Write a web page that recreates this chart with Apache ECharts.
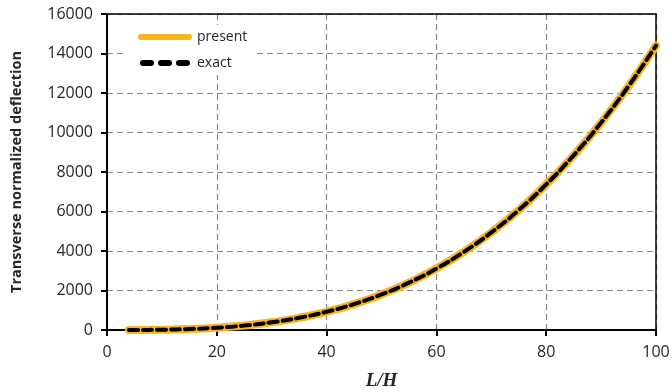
<!DOCTYPE html>
<html>
<head>
<meta charset="UTF-8">
<title></title>
<script src="https://cdn.jsdelivr.net/npm/echarts@6/dist/echarts.min.js"></script>
<style>
  html, body { margin: 0; padding: 0; background: #fff; }
</style>
</head>
<body>
<div id="main" style="width: 672px; height: 392px;"></div>
<script type="text/javascript">
// L/H values
var ratios = [4, 5, 10, 15, 20, 25, 30, 35, 40, 45, 50, 55, 60, 65, 70, 75, 80, 85, 90, 95, 100];
// deflection
var present = [1, 2, 14, 49, 115, 225, 389, 617, 922, 1312, 1800, 2396, 3110, 3955, 4940, 6075, 7373, 8845, 10500, 12350, 14400];
var exact = [1, 2, 14, 49, 115, 225, 389, 617, 922, 1312, 1800, 2396, 3110, 3955, 4940, 6075, 7373, 8845, 10500, 12350, 14400];
var xTicks = [0, 20, 40, 60, 80, 100];
var yTicks = [0, 2000, 4000, 6000, 8000, 10000, 12000, 14000, 16000];

function pairs(xs, ys) {
  var out = [];
  for (var i = 0; i < xs.length; i++) out.push([xs[i], ys[i]]);
  return out;
}

var chart = echarts.init(document.getElementById('main'));
var labelFont = { fontFamily: 'Open Sans', fontSize: 16, color: '#262626' };
var dashGrid = { lineStyle: { color: '#888', type: [6, 4], width: 1.2 } };
// frame on the top and right side
var frameAxis = {
  type: 'value', axisLine: { show: true, onZero: false, lineStyle: { color: '#000', width: 1.5 } },
  axisTick: { show: false }, axisLabel: { show: false }, splitLine: { show: false }
};
var option = {
  animation: false,
  grid: { left: 107, right: 16, top: 14, bottom: 62, outerBoundsMode: 'none' },
  legend: {
    left: 126, top: 25, orient: 'vertical',
    itemWidth: 54, itemHeight: 6, itemGap: 12,
    backgroundColor: '#fff', padding: [5, 6, 5, 12],
    textStyle: { fontFamily: 'Open Sans', fontSize: 14, color: '#262626' },
    data: [
      { name: 'present', icon: 'path://M3,0h48a3,3 0 0 1 0,6h-48a3,3 0 0 1 0,-6z', itemStyle: { color: '#F9B51C' } },
      { name: 'exact', icon: 'path://M3,0h8a3,3 0 0 1 0,6h-8a3,3 0 0 1 0,-6z M21,0h8a3,3 0 0 1 0,6h-8a3,3 0 0 1 0,-6z M39,0h8a3,3 0 0 1 0,6h-8a3,3 0 0 1 0,-6z', itemStyle: { color: '#000' } }
    ]
  },
  xAxis: [{
    type: 'value', min: 0, max: 100, interval: 20,
    name: 'L/H', nameLocation: 'middle', nameGap: 42,
    nameTextStyle: { fontFamily: 'Liberation Serif', fontStyle: 'italic', fontWeight: 'bold', fontSize: 19, color: '#262626' },
    axisLine: { lineStyle: { color: '#000', width: 2 } },
    axisTick: { inside: false, length: 6, lineStyle: { color: '#000', width: 2 } },
    axisLabel: Object.assign({ margin: 14 }, labelFont),
    splitLine: dashGrid
  }, Object.assign({ position: 'top', min: 0, max: 100 }, frameAxis)],
  yAxis: [{
    type: 'value', min: 0, max: 16000, interval: 2000,
    name: 'Transverse normalized deflection', nameLocation: 'middle', nameGap: 83,
    nameTextStyle: { fontFamily: 'Open Sans', fontWeight: 'bold', fontSize: 14.5, color: '#262626' },
    axisLine: { show: true, lineStyle: { color: '#000', width: 2 } },
    axisTick: { show: true, inside: false, length: 6, lineStyle: { color: '#000', width: 2 } },
    axisLabel: Object.assign({ margin: 14, formatter: function (v) { return String(v); } }, labelFont),
    splitLine: dashGrid
  }, Object.assign({ position: 'right', min: 0, max: 16000 }, frameAxis)],
  series: [
    {
      name: 'present', type: 'line', smooth: true, symbol: 'none',
      color: '#F9B51C',
      lineStyle: { color: '#F9B51C', width: 8, cap: 'round' },
      data: pairs(ratios, present)
    },
    {
      name: 'exact', type: 'line', smooth: true, symbol: 'none',
      color: '#000',
      lineStyle: { color: '#000', width: 4, type: [9, 5], cap: 'round' },
      data: pairs(ratios, exact)
    }
  ]
};
chart.setOption(option);
</script>
</body>
</html>
